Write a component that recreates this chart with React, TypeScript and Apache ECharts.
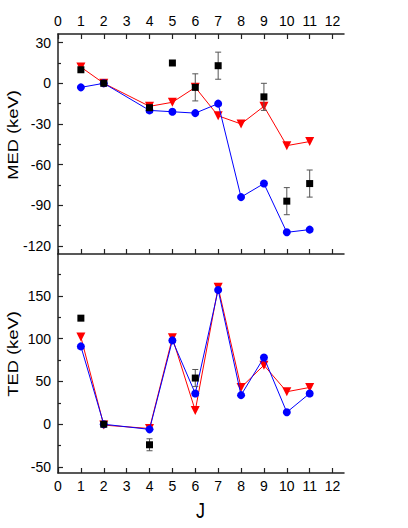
import React, { useEffect, useRef } from 'react';
import * as echarts from 'echarts';

const J = [1, 2, 4, 5, 6, 7, 8, 9, 10, 11];
const medRed = [12, 0, -17, -14, -3, -24, -30, -17, -46, -43];
const medBlue = [-3, 0, -20, -21, -22, -15, -84, -74, -110, -108];
const medExpJ = [1, 2, 4, 5, 6, 7, 9, 10, 11];
const medExp = [10, 0, -18, 15, -3, 13, -10, -87, -74];
const medErr = [0, 0, 0, 0, 10, 10, 10, 10, 10];

const tedRed = [102, -1, -5, 101, 16, 160, 43, 69, 38, 43];
const tedBlue = [91, 0, -6, 98, 36, 157, 34, 78, 14, 36];
const tedExpJ = [1, 2, 4, 6];
const tedExp = [124, 0, -24, 54];
const tedErr = [0, 0, 7, 10];

const xTicks = [0, 1, 2, 3, 4, 5, 6, 7, 8, 9, 10, 11, 12];
const medTicks = [-120, -90, -60, -30, 0, 30];
const medMinor = [-105, -75, -45, -15, 15];
const tedTicks = [-50, 0, 50, 100, 150];
const tedMinor = [-25, 25, 75, 125, 175];

const FONT = 'Liberation Sans, Arial, sans-serif';
const AX = '#222';

function pairs(xs: number[], ys: number[]) {
  return xs.map((x, i) => [x, ys[i]]);
}
function errs(xs: number[], ys: number[], es: number[]) {
  return xs
    .map((x, i) => [x, ys[i] - es[i], ys[i] + es[i], es[i]])
    .filter((d) => d[3] > 0);
}

const errRender = (params: any, api: any) => {
  const x = api.value(0);
  const lo = api.value(1);
  const hi = api.value(2);
  const p1 = api.coord([x, hi]);
  const p2 = api.coord([x, lo]);
  const cap = 3;
  const style = { stroke: '#555', lineWidth: 1 };
  return {
    type: 'group',
    children: [
      { type: 'line', shape: { x1: p1[0], y1: p1[1], x2: p2[0], y2: p2[1] }, style },
      { type: 'line', shape: { x1: p1[0] - cap, y1: p1[1], x2: p1[0] + cap, y2: p1[1] }, style },
      { type: 'line', shape: { x1: p2[0] - cap, y1: p2[1], x2: p2[0] + cap, y2: p2[1] }, style },
    ],
  };
};

function xAxis(grid: number, position: string, labels: boolean) {
  return {
    type: 'value',
    gridIndex: grid,
    position,
    min: 0,
    max: 12.5,
    axisLine: { show: true, onZero: false, lineStyle: { color: AX, width: 1.5 } },
    axisTick: { show: true, inside: true, length: 5, customValues: xTicks, lineStyle: { color: AX, width: 1.2 } },
    axisLabel: { show: labels, customValues: xTicks, margin: 6, fontFamily: FONT, fontSize: 14, color: '#000' },
    splitLine: { show: false },
  };
}

function yAxis(grid: number, min: number, max: number, ticks: number[], minor: boolean) {
  return {
    type: 'value',
    gridIndex: grid,
    position: 'left',
    min,
    max,
    axisLine: { show: !minor, onZero: false, lineStyle: { color: AX, width: 1.5 } },
    axisTick: {
      show: true,
      inside: true,
      length: minor ? 3 : 5,
      customValues: ticks,
      lineStyle: { color: AX, width: 1.2 },
    },
    axisLabel: { show: !minor, customValues: ticks, margin: 7, fontFamily: FONT, fontSize: 14, color: '#000' },
    splitLine: { show: false },
  };
}

export default function App() {
  const ref = useRef<HTMLDivElement>(null);
  useEffect(() => {
    document.body.style.margin = '0';
    const chart = echarts.init(ref.current!, undefined, { renderer: 'svg' });
    const lineSeries = (data: number[][], color: string, symbol: string, size: number, rot: number, xi: number, yi: number, z: number) => ({
      type: 'line',
      xAxisIndex: xi,
      yAxisIndex: yi,
      data,
      symbol,
      symbolSize: size,
      symbolRotate: rot,
      showAllSymbol: true,
      lineStyle: { color, width: 1 },
      itemStyle: { color, opacity: 1 },
      z,
    });
    const expSeries = (data: number[][], xi: number, yi: number) => ({
      type: 'scatter',
      xAxisIndex: xi,
      yAxisIndex: yi,
      data,
      symbol: 'rect',
      symbolSize: 7,
      itemStyle: { color: '#000', opacity: 1 },
      z: 5,
    });
    const errSeries = (data: number[][], xi: number, yi: number) => ({
      type: 'custom',
      xAxisIndex: xi,
      yAxisIndex: yi,
      data,
      encode: { x: 0, y: [1, 2] },
      renderItem: errRender,
      z: 4,
    });
    const title = (text: string, x: number, y: number, rot: number, size: number, sx: number, sy: number) => ({
      type: 'text',
      x,
      y,
      rotation: rot,
      scaleX: sx,
      scaleY: sy,
      style: { text, fontFamily: FONT, fontSize: size, fill: '#000', align: 'center', verticalAlign: 'middle' },
    });
    chart.setOption({
      animation: false,
      backgroundColor: '#fff',
      grid: [
        { left: 58, top: 34, width: 286, height: 220 },
        { left: 58, top: 254, width: 286, height: 219 },
      ],
      xAxis: [xAxis(0, 'top', true), xAxis(0, 'bottom', false), xAxis(1, 'bottom', true)],
      yAxis: [
        yAxis(0, -126, 36.4, medTicks, false),
        yAxis(0, -126, 36.4, medMinor, true),
        yAxis(1, -57, 199, tedTicks, false),
        yAxis(1, -57, 199, tedMinor, true),
      ],
      graphic: [
        title('MED (keV)', 12.5, 135, Math.PI / 2, 14, 1.31, 1),
        title('TED (keV)', 12.5, 354, Math.PI / 2, 14, 1.31, 1),
        title('J', 200.5, 510, 0, 18, 1, 1.25),
      ],
      series: [
        lineSeries(pairs(J, medRed), '#ff0000', 'triangle', 9, 180, 1, 0, 2),
        lineSeries(pairs(J, medBlue), '#0000ff', 'circle', 8, 0, 1, 0, 3),
        errSeries(errs(medExpJ, medExp, medErr), 1, 0),
        expSeries(pairs(medExpJ, medExp), 1, 0),
        lineSeries(pairs(J, tedRed), '#ff0000', 'triangle', 9, 180, 2, 2, 2),
        lineSeries(pairs(J, tedBlue), '#0000ff', 'circle', 8, 0, 2, 2, 3),
        errSeries(errs(tedExpJ, tedExp, tedErr), 2, 2),
        expSeries(pairs(tedExpJ, tedExp), 2, 2),
      ],
    });
    return () => chart.dispose();
  }, []);
  return <div ref={ref} style={{ width: 408, height: 528 }} />;
}
